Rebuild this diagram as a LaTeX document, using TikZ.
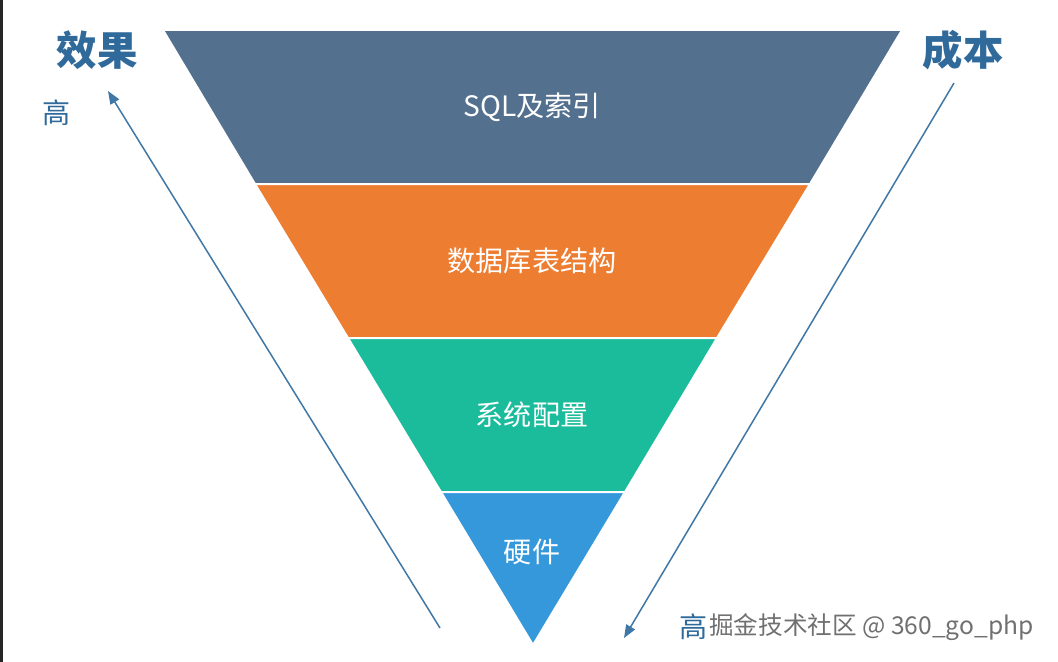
\documentclass[tikz,border=0pt]{standalone}
\usepackage{fontspec}
\setmainfont{Noto Sans CJK SC}
\usetikzlibrary{arrows.meta}
\definecolor{sqlblue}{HTML}{53708F}
\definecolor{tableorange}{HTML}{ED7D31}
\definecolor{configteal}{HTML}{1ABC9C}
\definecolor{hardwareblue}{HTML}{3498DB}
\definecolor{labelblue}{HTML}{2F6A9B}
\definecolor{arrowblue}{HTML}{3F77A6}
\definecolor{markgray}{HTML}{707070}
\tikzset{
  layer/.style={draw=white, line width=0.4mm, line join=round},
  layertext/.style={text=white, font=\fontsize{16}{18}\selectfont},
  axistitle/.style={text=labelblue, font=\fontsize{23}{26}\selectfont\bfseries},
  axislevel/.style={text=labelblue, font=\fontsize{16}{18}\selectfont},
  trend/.style={arrowblue, line width=0.3mm, -{Triangle[length=2.6mm,width=2mm]}}
}
\begin{document}
\begin{tikzpicture}[x=0.2mm,y=-0.2mm]
  \useasboundingbox (0,0) rectangle (1058,662);
  \fill[black!85] (0,0) rectangle (3,662);
  % funnel layers
  \path[fill=sqlblue, layer] (163,30) -- (902,30) -- (810,184) -- (255,184) -- cycle;
  \path[fill=tableorange, layer] (255,184) -- (810,184) -- (717,338) -- (348,338) -- cycle;
  \path[fill=configteal, layer] (348,338) -- (717,338) -- (625,492) -- (441,492) -- cycle;
  \path[fill=hardwareblue, layer] (441,492) -- (625,492) -- (533,645) -- cycle;
  \draw
    (532,107) node[layertext] (sql){SQL及索引}
    (532,261) node[layertext] (table){数据库表结构}
    (532,415) node[layertext] (config){系统配置}
    (532,552) node[layertext] (hardware){硬件};
  % axes
  \draw
    (97,50) node[axistitle] (effect){效果}
    (963,50) node[axistitle] (cost){成本}
    (57,113) node[axislevel] (effecthigh){高}
    (694,627) node[axislevel] (costhigh){高};
  \node[anchor=west, inner sep=0pt, text=markgray, font=\fontsize{14}{16}\selectfont] (mark) at (709,627) {掘金技术社区 @ 360\_go\_php};
  \coordinate (effectstart) at (440,628);
  \coordinate (effectend) at (108,91);
  \coordinate (coststart) at (954,83);
  \coordinate (costend) at (624,638);
  \begin{scope}[trend]
    \draw (effectstart) to (effectend);
    \draw (coststart) to (costend);
  \end{scope}
\end{tikzpicture}
\end{document}
